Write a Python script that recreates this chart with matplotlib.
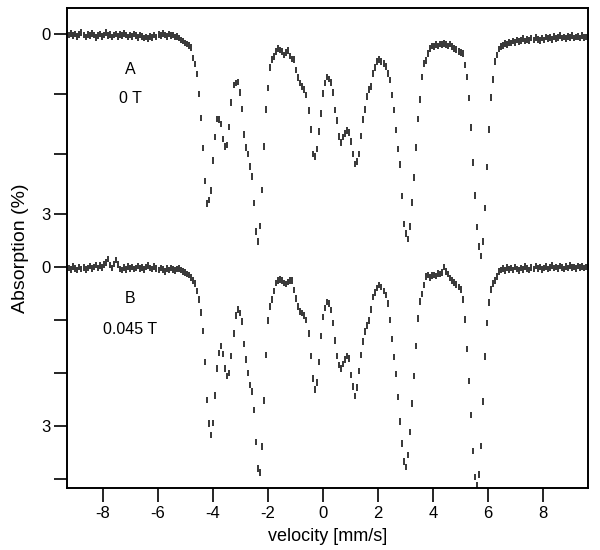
import numpy as np
import matplotlib
matplotlib.use("Agg")
import matplotlib.pyplot as plt

# absorption (%) per channel, spectrum A (0 T) and spectrum B (0.045 T)
absA = [
    0.02, -0.01, 0.03, 0.00, 0.04, 0.01, -0.02, 0.02, 0.05, 0.01,
    0.03, -0.01, 0.02, 0.06, 0.03, 0.00, 0.04, 0.02, -0.02, 0.03,
    0.01, 0.05, 0.02, 0.00, 0.04, 0.01, 0.03, -0.01, 0.02, 0.05,
    0.02, 0.04, 0.00, 0.03, 0.06, 0.02, 0.04, 0.07, 0.05, 0.08,
    0.04, 0.06, 0.02, 0.05, 0.01, 0.03, -0.01, 0.02, 0.04, 0.00,
    0.03, 0.02, 0.05, 0.04, 0.07, 0.10, 0.12, 0.15, 0.17, 0.19,
    0.23, 0.40, 0.50, 0.67, 1.00, 1.40, 1.90, 2.45, 2.83, 2.77,
    2.61, 2.11, 1.72, 1.42, 1.43, 1.50, 1.75, 1.88, 1.85, 1.55,
    1.14, 0.85, 0.82, 0.80, 0.98, 1.25, 1.68, 1.89, 2.00, 2.21,
    2.38, 2.82, 3.29, 3.46, 3.20, 2.60, 1.88, 1.26, 0.90, 0.56,
    0.43, 0.38, 0.29, 0.24, 0.27, 0.29, 0.35, 0.31, 0.28, 0.37,
    0.42, 0.43, 0.60, 0.73, 0.82, 0.88, 0.93, 1.02, 1.28, 1.59,
    2.00, 2.04, 1.92, 1.63, 1.33, 0.99, 0.82, 0.72, 0.75, 0.81,
    0.98, 1.27, 1.44, 1.71, 1.81, 1.72, 1.66, 1.61, 1.64, 1.79,
    2.00, 2.17, 2.13, 2.00, 1.70, 1.43, 1.26, 1.04, 0.93, 0.88,
    0.66, 0.56, 0.46, 0.43, 0.46, 0.49, 0.54, 0.66, 0.77, 1.02,
    1.27, 1.60, 1.92, 2.18, 2.70, 3.17, 3.33, 3.42, 3.21, 2.81,
    2.39, 1.89, 1.42, 1.09, 0.72, 0.49, 0.44, 0.33, 0.24, 0.20,
    0.21, 0.18, 0.20, 0.17, 0.18, 0.16, 0.18, 0.20, 0.17, 0.21,
    0.24, 0.26, 0.29, 0.31, 0.33, 0.52, 0.72, 1.07, 1.56, 2.14,
    2.69, 3.22, 3.54, 3.70, 3.46, 2.90, 2.22, 1.59, 1.06, 0.76,
    0.46, 0.35, 0.25, 0.21, 0.19, 0.16, 0.18, 0.14, 0.15, 0.12,
    0.14, 0.10, 0.13, 0.11, 0.08, 0.12, 0.09, 0.11, 0.07, 0.10,
    0.06, 0.09, 0.11, 0.07, 0.10, 0.05, 0.08, 0.06, 0.09, 0.04,
    0.08, 0.06, 0.03, 0.07, 0.05, 0.08, 0.04, 0.06, 0.03, 0.07,
    0.05, 0.04, 0.07, 0.03, 0.06, 0.05,
]
absB = [
    0.02, 0.05, -0.01, 0.03, 0.06, 0.00, 0.04, 0.01, 0.05, 0.02,
    -0.02, 0.03, 0.00, -0.04, 0.02, -0.03, 0.01, -0.05, -0.08, -0.15,
    -0.04, 0.02, -0.06, -0.13, -0.05, 0.04, 0.06, 0.01, 0.05, -0.01,
    0.03, 0.00, 0.04, 0.02, -0.02, 0.03, 0.01, 0.05, 0.00, -0.03,
    0.02, 0.04, -0.01, 0.03, 0.06, 0.02, 0.05, 0.08, 0.03, 0.06,
    0.02, 0.05, 0.07, 0.04, 0.03, 0.06, 0.08, 0.10, 0.13, 0.15,
    0.20, 0.25, 0.31, 0.45, 0.61, 0.86, 1.21, 1.79, 2.51, 2.95,
    3.17, 2.94, 2.42, 1.91, 1.62, 1.49, 1.64, 1.91, 2.06, 2.00,
    1.68, 1.26, 0.91, 0.80, 0.87, 1.03, 1.45, 1.75, 2.00, 2.23,
    2.35, 2.70, 3.30, 3.80, 3.88, 3.39, 2.52, 1.66, 1.01, 0.74,
    0.61, 0.45, 0.30, 0.25, 0.24, 0.26, 0.30, 0.32, 0.28, 0.25,
    0.26, 0.43, 0.59, 0.74, 0.84, 0.87, 0.92, 1.00, 1.25, 1.68,
    2.10, 2.31, 2.18, 1.79, 1.30, 0.94, 0.77, 0.66, 0.69, 0.81,
    1.06, 1.39, 1.68, 1.85, 1.92, 1.83, 1.75, 1.68, 1.73, 2.04,
    2.26, 2.43, 2.27, 1.96, 1.66, 1.41, 1.22, 1.10, 1.01, 0.80,
    0.57, 0.48, 0.40, 0.34, 0.38, 0.45, 0.53, 0.69, 1.00, 1.36,
    1.70, 2.02, 2.45, 2.92, 3.33, 3.67, 3.77, 3.55, 3.11, 2.58,
    2.06, 1.49, 0.97, 0.65, 0.51, 0.34, 0.18, 0.15, 0.20, 0.16,
    0.15, 0.17, 0.12, 0.13, 0.10, 0.00, 0.09, 0.13, 0.21, 0.25,
    0.29, 0.33, 0.38, 0.42, 0.61, 0.99, 1.55, 2.15, 2.79, 3.47,
    3.96, 4.12, 3.91, 3.38, 2.54, 1.69, 1.06, 0.67, 0.42, 0.31,
    0.26, 0.18, 0.09, 0.06, 0.03, 0.07, 0.01, 0.05, 0.02, 0.06,
    0.00, 0.04, 0.07, 0.02, 0.05, -0.01, 0.03, 0.06, 0.01, 0.04,
    -0.02, 0.03, 0.00, 0.05, 0.02, -0.01, 0.04, 0.01, -0.03, 0.02,
    0.00, 0.03, -0.02, 0.01, 0.04, -0.01, 0.02, -0.03, 0.01, 0.00,
    0.03, -0.02, 0.01, -0.01, 0.02, 0.00,
]
errA = 0.055
errB = 0.062
v_first, v_last = -9.226, 9.575   # velocity of first / last channel (mm/s)
velocity = np.linspace(v_first, v_last, len(absA))

plt.rcParams['font.family'] = ['Liberation Sans', 'DejaVu Sans']
plt.rcParams['axes.unicode_minus'] = False

fig = plt.figure(figsize=(6, 5.5), dpi=100)
ax = fig.add_axes([0.1117, 0.1127, 0.8683, 0.8728])
axB = ax.twinx()

ax.errorbar(velocity, absA, yerr=errA, fmt='none', ecolor='black', elinewidth=1.1)
axB.errorbar(velocity, absB, yerr=errB, fmt='none', ecolor='black', elinewidth=1.1)

ax.set_xlim(-9.31, 9.64)
ax.set_ylim(7.567, -0.433)
axB.set_ylim(4.17, -4.887)

ax.set_xticks([-8, -6, -4, -2, 0, 2, 4, 6, 8])
ax.set_yticks([0, 1, 2, 3], ['0', '', '', '3'])
axB.yaxis.tick_left()
axB.set_yticks([0, 1, 2, 3, 4], ['0', '', '', '3', ''])

for a in (ax, axB):
    a.tick_params(axis='both', direction='out', length=9.5, width=1.2, labelsize=12, pad=2)
    for s in a.spines.values():
        s.set_linewidth(1.2)
ax.tick_params(axis='x', length=10, pad=3)

ax.set_xlabel('velocity [mm/s]', fontsize=13, labelpad=5)
ax.set_ylabel('Absorption (%)', fontsize=14, labelpad=9)

ax.text(-7.02, 0.6, 'A', fontsize=11.5, ha='center', va='center')
ax.text(-7.02, 1.07, '0 T', fontsize=11.5, ha='center', va='center')
axB.text(-7.02, 0.6, 'B', fontsize=11.5, ha='center', va='center')
axB.text(-7.02, 1.17, '0.045 T', fontsize=11.5, ha='center', va='center')

plt.savefig('out.png', dpi=100)
